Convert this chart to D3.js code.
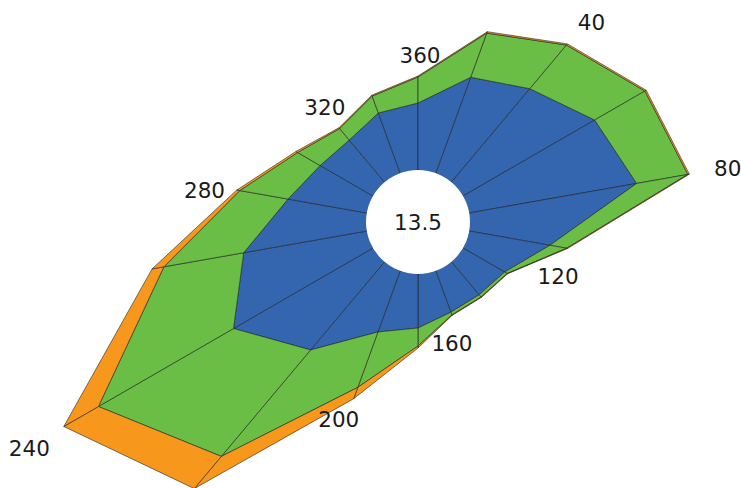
<!DOCTYPE html>
<html>
<head>
<meta charset="utf-8">
<script src="https://cdn.jsdelivr.net/npm/d3@7"></script>
<style>
  html, body { margin: 0; padding: 0; background: #fff; }
  svg { display: block; }
  text { font-family: "DejaVu Sans", sans-serif; font-size: 21.5px; fill: #1a1a1a; }
</style>
</head>
<body>
<div id="rose"></div>
<script>
(function(d3) {
  'use strict';

  // wind directions (degrees) and the three stacked bands
  var directions = [20, 40, 60, 80, 100, 120, 140, 160, 180, 200, 220, 240, 260, 280, 300, 320, 340, 360];
  var blue   = [10.2, 12.2, 15.2, 17.0, 8.2, 4.8, 4.3, 4.4, 5.4, 6.5, 11.5, 16.1, 12.5, 8.0, 6.1, 5.5, 6.4, 6.7];
  var green  = [4.7, 5.7, 5.8, 5.2, 1.7, 0.3, 0.3, 0.3, 1.8, 5.9, 13.9, 15.6, 8.1, 4.9, 2.6, 1.5, 1.8, 2.6];
  var orange = [0.15, 0.15, 0.15, 0.15, 0.1, 0.05, 0.05, 0.05, 0.2, 1.2, 4.2, 4.0, 1.2, 0.3, 0.2, 0.1, 0.1, 0.1];
  var dirLabels = [40, 80, 120, 160, 200, 240, 280, 320, 360];
  var calm = '13.5';

  var keys = ['blue', 'green', 'orange'];
  var colors = ['#3466b0', '#6abd45', '#f7981d'];

  var width = 741;
  var height = 488;
  var cx = 418, cy = 222;
  var hole = 52;

  var rows = directions.map(function(d, i) {
    return { dir: d, blue: blue[i], green: green[i], orange: orange[i] };
  });

  var series = d3.stack().keys(keys)(rows);

  var angle = d3.scaleLinear().domain([0, 360]).range([0, 2 * Math.PI]);
  var radius = d3.scaleLinear().domain([0, 40]).range([hole, hole + 400]);

  function pt(dir, v) {
    var a = angle(dir), r = radius(v);
    return [cx + r * Math.sin(a), cy - r * Math.cos(a)];
  }

  var color = d3.scaleOrdinal().domain(keys).range(colors);

  var svg = d3.select('#rose')
    .append('svg')
    .attr('width', width)
    .attr('height', height);

  var line = d3.line().curve(d3.curveLinearClosed);
  var n = rows.length;

  series.forEach(function(s) {
    var quads = s.map(function(d, i) {
      var j = (i + 1) % n;
      var a0 = rows[i].dir, a1 = rows[j].dir;
      return [pt(a0, d[0]), pt(a1, s[j][0]), pt(a1, s[j][1]), pt(a0, d[1])];
    });
    svg.append('g')
      .selectAll('path')
      .data(quads)
      .enter()
      .append('path')
      .attr('d', line)
      .attr('fill', color(s.key))
      .attr('stroke', '#222')
      .attr('stroke-width', 0.6)
      .attr('stroke-linejoin', 'round');
  });

  // white hole with calm value
  svg.append('circle')
    .attr('cx', cx).attr('cy', cy).attr('r', hole)
    .attr('fill', '#fff');

  svg.append('text')
    .attr('x', cx).attr('y', cy)
    .attr('text-anchor', 'middle')
    .attr('dominant-baseline', 'central')
    .text(calm);

  // direction labels just outside the outer band
  var top = series[series.length - 1];
  var pad = 17;
  var nudge = {
    40: [6, 0], 80: [8, 0], 120: [21, -14], 160: [-9, 4], 200: [-6, -4],
    240: [-5, 5], 280: [5, 7], 320: [4, 1], 360: [2, 5]
  };

  dirLabels.forEach(function(lab) {
    var i = directions.indexOf(lab);
    var t = svg.append('text')
      .attr('text-anchor', 'middle')
      .attr('dominant-baseline', 'central')
      .text(lab);
    var bb = t.node().getBBox();
    var a = angle(lab);
    var sx = Math.abs(Math.sin(a)), sy = Math.abs(Math.cos(a));
    var ext = Math.min(sx > 1e-6 ? (bb.width / 2) / sx : 1e9, sy > 1e-6 ? (bb.height / 2 - 4) / sy : 1e9);
    var r = radius(top[i][1]) + pad + ext;
    var off = nudge[lab] || [0, 0];
    t.attr('x', cx + r * Math.sin(a) + off[0])
      .attr('y', cy - r * Math.cos(a) + off[1]);
  });
})(window.d3);
</script>
</body>
</html>
